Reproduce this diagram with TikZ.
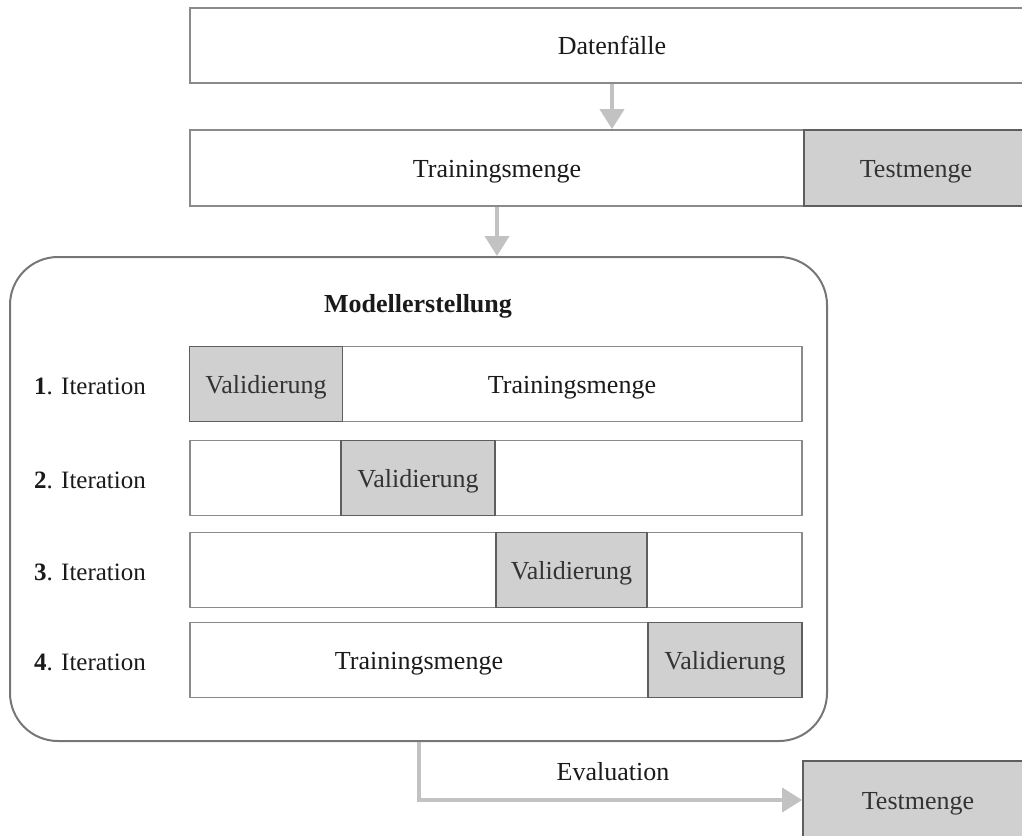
\documentclass[tikz,border=0pt]{standalone}
\usepackage{fontspec}
\setmainfont{Liberation Serif}
\usetikzlibrary{arrows.meta}
\definecolor{bord}{HTML}{8A8A8A}
\definecolor{gbord}{HTML}{5E5E5E}
\definecolor{gfill}{HTML}{D0D0D0}
\definecolor{arrc}{HTML}{C2C2C2}
\definecolor{mbord}{HTML}{767676}
\definecolor{txt}{HTML}{1A1A1A}
\definecolor{gtxt}{HTML}{333333}
\begin{document}
\begin{tikzpicture}[x=1pt,y=-1pt,
  every node/.style={font=\fontsize{26}{30}\selectfont, text=txt, text height=20pt, text depth=2pt},
  wbox/.style={draw=bord, line width=1.8pt, fill=white, inner sep=0pt, minimum height=75pt},
  gbox/.style={draw=gbord, line width=1.8pt, fill=gfill, inner sep=0pt, text=gtxt, minimum height=75pt},
  arr/.style={draw=arrc, line width=4pt, -{Triangle[length=20pt,width=24pt]}},
  lbl/.style={inner sep=0pt},
  itlbl/.style={inner sep=0pt, font=\fontsize{25}{30}\selectfont}]
\useasboundingbox (0,0) rectangle (1022,835);

% top rows
\node[wbox, minimum width=844pt] (daten) at (612,45.5) {Datenfälle};
\node[wbox, minimum width=614pt, minimum height=76pt] (train) at (497,168) {Trainingsmenge};
\node[gbox, minimum width=224pt, minimum height=76pt] (testa) at (916,168) {Testmenge};

% model box
\node[draw=mbord, line width=2pt, rounded corners=48pt, minimum width=817pt, minimum height=484pt, inner sep=0pt] (model) at (418.5,499) {};
\node[lbl, font=\fontsize{26}{30}\selectfont\bfseries] (mtitle) at (418,303) {Modellerstellung};

% iteration rows
\node[wbox, minimum width=612pt] (r1) at (496,384) {};
\node[wbox, minimum width=612pt] (r2) at (496,478) {};
\node[wbox, minimum width=612pt] (r3) at (496,570) {};
\node[wbox, minimum width=612pt] (r4) at (496,660) {};

\node[gbox, minimum width=153pt] (v1) at (266,384) {Validierung};
\node[gbox, minimum width=154pt] (v2) at (418,478) {Validierung};
\node[gbox, minimum width=151pt] (v3) at (571.5,570) {Validierung};
\node[gbox, minimum width=154pt] (v4) at (725,660) {Validierung};

\node[lbl] (t1) at (572,384) {Trainingsmenge};
\node[lbl] (t4) at (419,660) {Trainingsmenge};

\node[itlbl] (l1) at (90,385) {\textbf{1}. Iteration};
\node[itlbl] (l2) at (90,479) {\textbf{2}. Iteration};
\node[itlbl] (l3) at (90,571) {\textbf{3}. Iteration};
\node[itlbl] (l4) at (90,661) {\textbf{4}. Iteration};

% bottom test set
\node[gbox, minimum width=230pt, minimum height=78pt] (testb) at (918,800) {Testmenge};
\node[lbl] (eval) at (613,771) {Evaluation};

% arrows
\draw[arr] (daten.south) -- (daten.south |- train.north);
\draw[arr] (train.south) -- (train.south |- model.north);
\draw[arr] (model.south) |- (testb.west);
\end{tikzpicture}
\end{document}
